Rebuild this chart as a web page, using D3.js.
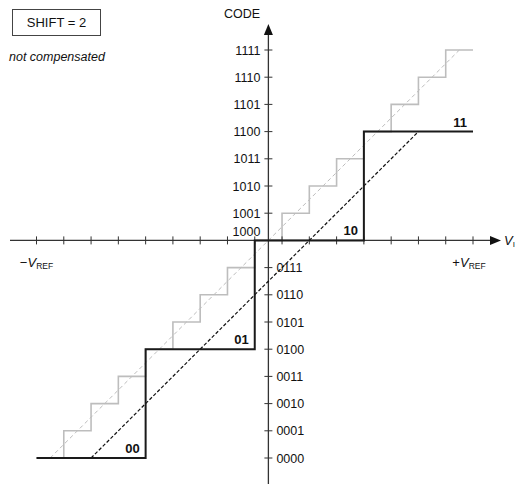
<!DOCTYPE html>
<html>
<head>
<meta charset="utf-8">
<script src="https://cdn.jsdelivr.net/npm/d3@7"></script>
<style>
  body { margin: 0; background: #fff; }
  svg text { font-family: "Liberation Sans", Arial, sans-serif; fill: #111; }
</style>
</head>
<body>
<div id="chart"></div>
<script>
// code values (relative to 1000) and their labels
var codeValues = [-8, -7, -6, -5, -4, -3, -2, -1, 0, 1, 2, 3, 4, 5, 6, 7];
var codeLabels = ["0000", "0001", "0010", "0011", "0100", "0101", "0110", "0111",
                  "1000", "1001", "1010", "1011", "1100", "1101", "1110", "1111"];

// x ticks in LSB units
var xTicks = [-8.5, -7.5, -6.5, -5.5, -4.5, -3.5, -2.5, -1.5, -0.5, 0.5, 1.5, 2.5, 3.5, 4.5, 5.5, 6.5, 7.5];

// ideal 4-bit staircase (grey)
var idealEdges = [-8.5, -7.5, -6.5, -5.5, -4.5, -3.5, -2.5, -1.5, -0.5, 0.5, 1.5, 2.5, 3.5, 4.5, 5.5, 6.5, 7.5];
var idealLevels = [-8, -7, -6, -5, -4, -3, -2, -1, 0, 1, 2, 3, 4, 5, 6, 7];

// shifted 2-bit staircase (black)
var shiftEdges = [-8.5, -4.5, -0.5, 3.5, 7.5];
var shiftLevels = [-8, -4, 0, 4];
var shiftLabels = ["00", "01", "10", "11"];

// dashed transfer lines
var idealLine = [[-8, -8], [7, 7]];
var shiftLine = [[-6.5, -8], [5.5, 4]];

var width = 516, height = 486;

var svg = d3.select("#chart").append("svg")
    .attr("width", width)
    .attr("height", height);

var x = d3.scaleLinear().domain([-8.5, 7.5]).range([36.5, 473]);
var y = d3.scaleLinear().domain([-8, 7]).range([458, 50]);

var x0 = x(0), y0 = y(0);

function stepPoints(edges, levels) {
    var pts = levels.map(function(l, i) { return [edges[i], l]; });
    pts.push([edges[edges.length - 1], levels[levels.length - 1]]);
    return pts;
}

var line = d3.line()
    .x(function(d) { return x(d[0]); })
    .y(function(d) { return y(d[1]); });

var stepLine = d3.line()
    .curve(d3.curveStepAfter)
    .x(function(d) { return x(d[0]); })
    .y(function(d) { return y(d[1]); });

// grey dashed ideal line
svg.append("path")
    .attr("d", line(idealLine))
    .attr("fill", "none")
    .attr("stroke", "#bdbdbd")
    .attr("stroke-width", 1)
    .attr("stroke-dasharray", "4,3");

// grey staircase
svg.append("path")
    .attr("d", stepLine(stepPoints(idealEdges, idealLevels)))
    .attr("fill", "none")
    .attr("stroke", "#bdbdbd")
    .attr("stroke-width", 1.6);

// axes
var axisColor = "#333";
svg.append("line")
    .attr("x1", 10).attr("x2", 496)
    .attr("y1", y0).attr("y2", y0)
    .attr("stroke", axisColor).attr("stroke-width", 1.3);
svg.append("path")
    .attr("d", "M" + 501 + "," + y0 + "L" + 490 + "," + (y0 - 4.5) + "L" + 490 + "," + (y0 + 4.5) + "Z")
    .attr("fill", "#111");

svg.append("line")
    .attr("x1", x0).attr("x2", x0)
    .attr("y1", 30).attr("y2", 484)
    .attr("stroke", axisColor).attr("stroke-width", 1.3);
svg.append("path")
    .attr("d", "M" + x0 + "," + 24 + "L" + (x0 - 4.5) + "," + 35 + "L" + (x0 + 4.5) + "," + 35 + "Z")
    .attr("fill", "#111");

// x ticks
svg.append("g").selectAll("line")
    .data(xTicks)
    .enter().append("line")
    .attr("x1", function(d) { return x(d); })
    .attr("x2", function(d) { return x(d); })
    .attr("y1", y0 - 4).attr("y2", y0 + 4)
    .attr("stroke", axisColor).attr("stroke-width", 1);

// y ticks and labels
var yt = svg.append("g").selectAll("g")
    .data(codeValues.map(function(v, i) { return {v: v, label: codeLabels[i]}; }))
    .enter().append("g");

yt.filter(function(d) { return d.v !== 0; })
    .append("line")
    .attr("x1", x0 - 4).attr("x2", x0 + 4)
    .attr("y1", function(d) { return y(d.v); })
    .attr("y2", function(d) { return y(d.v); })
    .attr("stroke", axisColor).attr("stroke-width", 1);

yt.append("text")
    .attr("x", function(d) { return d.v >= 0 ? x0 - 8 : x0 + 8; })
    .attr("y", function(d) { return d.v === 0 ? y0 - 9 : y(d.v); })
    .attr("dy", "0.36em")
    .attr("text-anchor", function(d) { return d.v >= 0 ? "end" : "start"; })
    .attr("font-size", 12.5)
    .text(function(d) { return d.label; });

// black dashed shifted line
svg.append("path")
    .attr("d", line(shiftLine))
    .attr("fill", "none")
    .attr("stroke", "#111")
    .attr("stroke-width", 1.2)
    .attr("stroke-dasharray", "3.5,2");

// black staircase
svg.append("path")
    .attr("d", stepLine(stepPoints(shiftEdges, shiftLevels)))
    .attr("fill", "none")
    .attr("stroke", "#1a1a1a")
    .attr("stroke-width", 2);

// step labels
svg.append("g").selectAll("text")
    .data(shiftLabels)
    .enter().append("text")
    .attr("x", function(d, i) { return x(shiftEdges[i + 1]) - 6; })
    .attr("y", function(d, i) { return y(shiftLevels[i]) - 5; })
    .attr("text-anchor", "end")
    .attr("font-size", 13)
    .attr("font-weight", "bold")
    .text(function(d) { return d; });

// axis titles
svg.append("text")
    .attr("x", 242).attr("y", 18)
    .attr("text-anchor", "middle")
    .attr("font-size", 12.5)
    .text("CODE");

var vi = svg.append("text")
    .attr("x", 504).attr("y", y0 + 5)
    .attr("font-size", 13);
vi.append("tspan").attr("font-style", "italic").text("V");
vi.append("tspan").attr("font-size", 8).attr("dy", 2).text("I");

var vm = svg.append("text")
    .attr("x", x(-8.5)).attr("y", y0 + 27)
    .attr("text-anchor", "middle")
    .attr("font-size", 13);
vm.append("tspan").text("\u2212");
vm.append("tspan").attr("font-style", "italic").text("V");
vm.append("tspan").attr("font-size", 8.5).attr("dy", 2).text("REF");

var vp = svg.append("text")
    .attr("x", x(7.5) - 4).attr("y", y0 + 27)
    .attr("text-anchor", "middle")
    .attr("font-size", 13);
vp.append("tspan").text("+");
vp.append("tspan").attr("font-style", "italic").text("V");
vp.append("tspan").attr("font-size", 8.5).attr("dy", 2).text("REF");

// SHIFT box
svg.append("rect")
    .attr("x", 12.5).attr("y", 9.5)
    .attr("width", 88).attr("height", 26)
    .attr("fill", "#fff")
    .attr("stroke", "#444").attr("stroke-width", 1);
svg.append("text")
    .attr("x", 56.5).attr("y", 22.5)
    .attr("dy", "0.36em")
    .attr("text-anchor", "middle")
    .attr("font-size", 13)
    .text("SHIFT = 2");

svg.append("text")
    .attr("x", 9).attr("y", 61)
    .attr("font-size", 12.5)
    .attr("font-style", "italic")
    .text("not compensated");
</script>
</body>
</html>
